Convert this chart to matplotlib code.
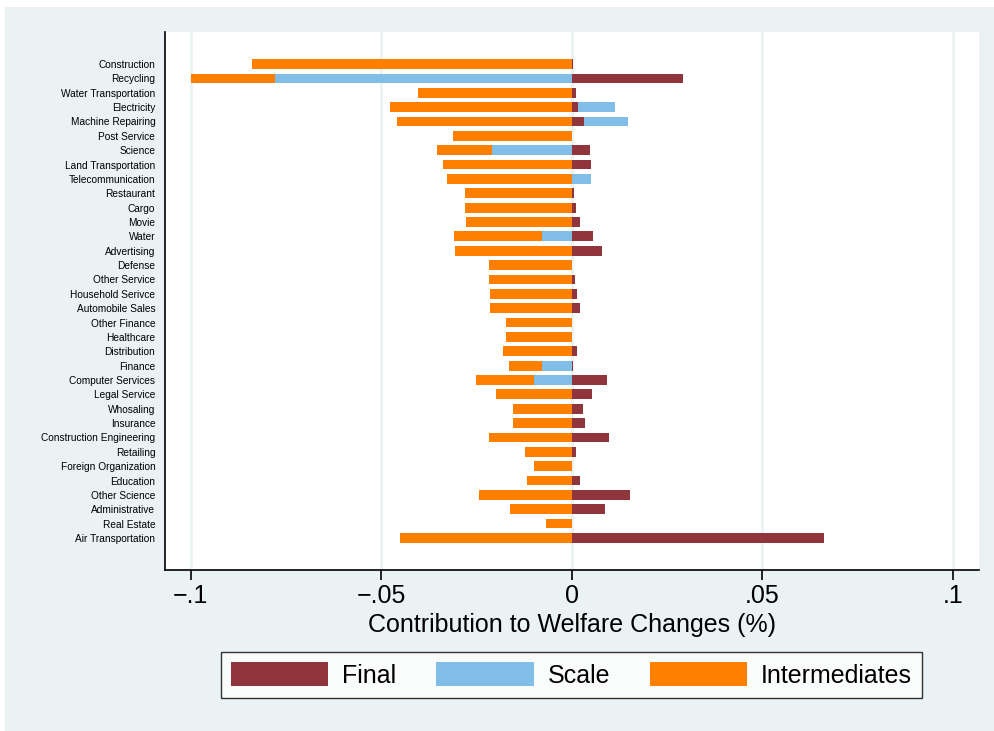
import matplotlib
matplotlib.use("Agg")
import matplotlib.pyplot as plt
import numpy as np
from matplotlib.patches import Rectangle, Patch

plt.rcParams['font.family'] = ['Liberation Sans', 'DejaVu Sans']

sectors = ["Construction", "Recycling", "Water Transportation", "Electricity", "Machine Repairing",
           "Post Service", "Science", "Land Transportation", "Telecommunication", "Restaurant",
           "Cargo", "Movie", "Water", "Advertising", "Defense", "Other Service",
           "Household Serivce", "Automobile Sales", "Other Finance", "Healthcare", "Distribution",
           "Finance", "Computer Services", "Legal Service", "Whosaling", "Insurance",
           "Construction Engineering", "Retailing", "Foreign Organization", "Education",
           "Other Science", "Administrative", "Real Estate", "Air Transportation"]

final = [0.0003, 0.0293, 0.0012, 0.0016, 0.0033, 0.0002, 0.0049, 0.0052, 0.0, 0.0006,
         0.0011, 0.0022, 0.0056, 0.0080, 0.0002, 0.0008, 0.0014, 0.0021, 0.0, 0.0001,
         0.0014, 0.0003, 0.0092, 0.0054, 0.0031, 0.0034, 0.0099, 0.0011, 0.0, 0.0022,
         0.0154, 0.0087, 0.0, 0.0663]

scale = [0.0, -0.0778, 0.0, 0.0099, 0.0116, 0.0, -0.0210, 0.0, 0.0050, 0.0,
         0.0, 0.0, -0.0078, 0.0, 0.0, 0.0, 0.0, 0.0, 0.0, 0.0,
         0.0, -0.0079, -0.0098, 0.0, 0.0, 0.0, 0.0, 0.0, 0.0, 0.0,
         0.0, 0.0, 0.0, 0.0]

intermediates = [-0.0839, -0.0220, -0.0402, -0.0476, -0.0457, -0.0310, -0.0144, -0.0337, -0.0327, -0.0279,
                 -0.0279, -0.0276, -0.0230, -0.0307, -0.0218, -0.0218, -0.0215, -0.0215, -0.0173, -0.0173,
                 -0.0181, -0.0085, -0.0154, -0.0198, -0.0154, -0.0154, -0.0216, -0.0123, -0.0099, -0.0116,
                 -0.0242, -0.0162, -0.0068, -0.0450]

series = [("Final", final, "#90353B"), ("Scale", scale, "#80BDE7"), ("Intermediates", intermediates, "#FF8000")]

W, H = 995, 731
fig = plt.figure(figsize=(W / 100, H / 100), dpi=100)
fig.patch.set_facecolor("white")
bg = Rectangle((5 / W, 0), 1 - 5 / W, 1 - 7 / H, transform=fig.transFigure,
               facecolor="#EAF2F3", edgecolor="none", zorder=-10)
fig.patches.append(bg)

ax = fig.add_axes([165 / W, 1 - 570 / H, (979 - 165) / W, (570 - 32) / H])
ax.set_zorder(1)
ax.set_facecolor("white")

y = np.arange(len(sectors))
pos_base = np.zeros(len(sectors))
neg_base = np.zeros(len(sectors))
for name, vals, col in series:
    v = np.array(vals)
    left = np.where(v >= 0, pos_base, neg_base)
    ax.barh(y, v, left=left, height=0.68, color=col, edgecolor="none", zorder=3)
    pos_base = pos_base + np.where(v >= 0, v, 0)
    neg_base = neg_base + np.where(v < 0, v, 0)

ax.set_ylim(len(sectors) - 1 + 2.23, -2.23)
ax.set_xlim(-0.1067, 0.1069)
ticks = [-0.1, -0.05, 0, 0.05, 0.1]
ax.set_xticks(ticks)
ax.set_xticklabels(["\u2212.1", "\u2212.05", "0", ".05", ".1"], fontsize=18)
ax.set_yticks(y)
ax.set_yticklabels(sectors, fontsize=7.3)
ax.tick_params(axis="y", length=0, pad=7)
ax.tick_params(axis="x", length=7, width=1.2, pad=3)
for t in ticks:
    ax.axvline(t, color="#EAF2F3", lw=2, zorder=1)
for s in ["top", "right"]:
    ax.spines[s].set_visible(False)
ax.spines["left"].set_linewidth(1.2)
ax.spines["bottom"].set_linewidth(1.2)
ax.set_xlabel("Contribution to Welfare Changes (%)", fontsize=18, labelpad=4)

handles = [Patch(facecolor=c, edgecolor="none") for _, _, c in series]
leg = fig.legend(handles, [n for n, _, _ in series], loc="center", ncol=3,
                 bbox_to_anchor=(571.5 / W, 1 - 675 / H), fontsize=18, frameon=True,
                 fancybox=False, edgecolor="black", handlelength=3.9, handleheight=1.05,
                 handletextpad=0.55, columnspacing=1.6, borderpad=0.4)
leg.get_frame().set_linewidth(1.0)
leg.get_frame().set_facecolor("white")

fig.savefig("out.png", dpi=100, facecolor=fig.get_facecolor())
